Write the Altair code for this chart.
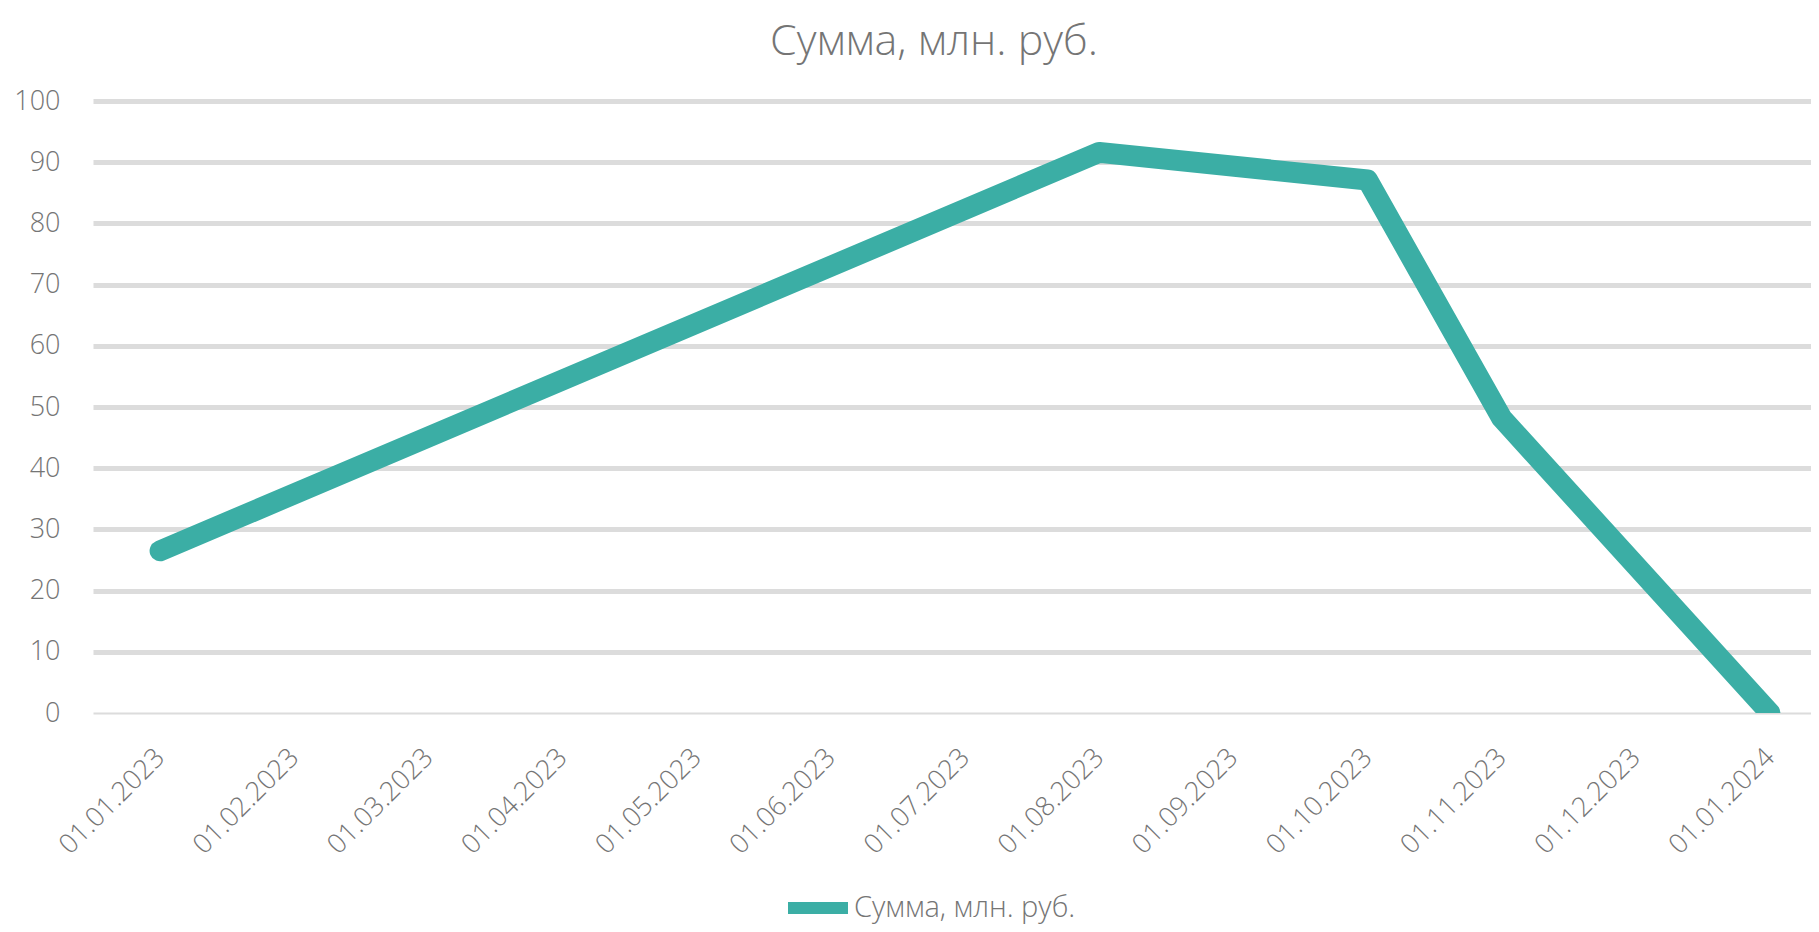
import altair as alt
import pandas as pd

# ---- data ----
month_labels = [
    "01.01.2023", "01.02.2023", "01.03.2023", "01.04.2023", "01.05.2023",
    "01.06.2023", "01.07.2023", "01.08.2023", "01.09.2023", "01.10.2023",
    "01.11.2023", "01.12.2023", "01.01.2024",
]
point_dates = ["01.01.2023", "01.08.2023", "01.10.2023", "01.11.2023", "01.01.2024"]
point_values = [26.5, 91.6, 87.1, 48.2, 0.0]
y_ticks = list(range(0, 101, 10))
series_name = "Сумма, млн. руб."
title_text = "Сумма, млн. руб."

LINE_COLOR = "#3BAEA5"
TEXT_COLOR = "#757575"
GRID_COLOR = "#DCDCDC"
FONT = "Open Sans"

df = pd.DataFrame({
    "date": point_dates,
    "idx": [month_labels.index(d) for d in point_dates],
    "value": point_values,
    "series": series_name,
})

label_expr = "[" + ",".join(f"'{m}'" for m in month_labels) + "][datum.value]"

chart = alt.Chart(df).mark_line(
    strokeWidth=21, strokeCap="round", strokeJoin="round", clip=True
).encode(
    x=alt.X(
        "idx:Q",
        scale=alt.Scale(domain=[-0.5, 12.306], nice=False, zero=False),
        axis=alt.Axis(
            values=list(range(len(month_labels))),
            labelExpr=label_expr,
            labelAngle=-45,
            labelAlign="right",
            labelBaseline="middle",
            labelPadding=40,
            labelOverlap=False,
            labelFlush=False,
            labelBound=False,
            grid=False,
            domain=False,
            ticks=False,
            title=None,
            labelFontSize=27,
            labelColor=TEXT_COLOR,
            labelFont=FONT,
            labelFontWeight=300,
        ),
    ),
    y=alt.Y(
        "value:Q",
        scale=alt.Scale(domain=[0, 100], nice=False),
        axis=alt.Axis(
            values=y_ticks,
            grid=True,
            gridColor=GRID_COLOR,
            gridWidth=alt.ExprRef(expr="datum.value === 0 ? 2 : 5"),
            domain=False,
            ticks=False,
            title=None,
            labelPadding=33,
            labelFontSize=27,
            labelColor=TEXT_COLOR,
            labelFont=FONT,
            labelFontWeight=300,
            labelFlush=False,
        ),
    ),
    color=alt.Color(
        "series:N",
        scale=alt.Scale(range=[LINE_COLOR]),
        legend=alt.Legend(
            title=None,
            orient="none",
            legendX=689,
            legendY=771,
            symbolType="stroke",
            symbolStrokeWidth=12,
            symbolSize=3600,
            labelFontSize=29,
            labelFont=FONT,
            labelFontWeight=300,
            labelColor=TEXT_COLOR,
            labelOffset=0,
            labelLimit=0,
            padding=0,
        ),
    ),
).properties(
    width=1718,
    height=612,
    title=alt.TitleParams(
        text=title_text,
        fontSize=43,
        font=FONT,
        fontWeight=300,
        color=TEXT_COLOR,
        anchor="middle",
        dx=-18,
        dy=19,
        baseline="alphabetic",
        offset=8,
    ),
    autosize=alt.AutoSizeParams(type="none"),
    padding={"left": 85, "top": 93, "right": 0, "bottom": 211},
).configure_view(stroke=None)

chart.save("out.html", embed_options={"renderer": "svg", "actions": False})
